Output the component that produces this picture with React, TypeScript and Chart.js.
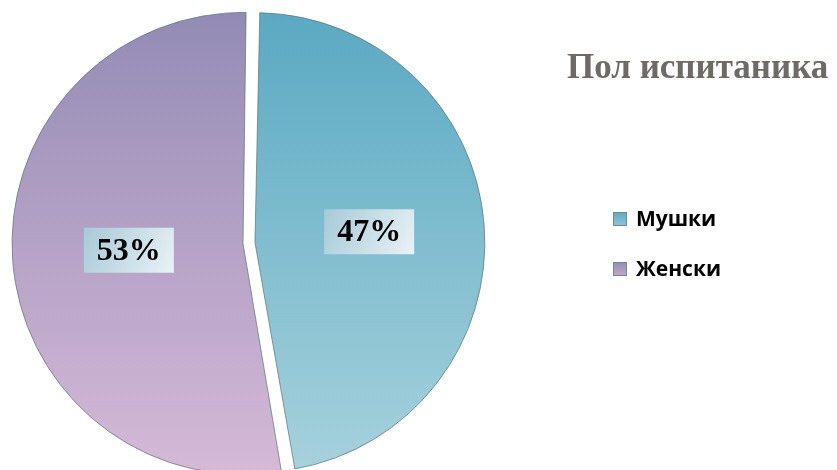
import React, { useEffect, useRef } from "react";
import { Chart, registerables } from "chart.js";

Chart.register(...registerables);

const title = "Пол испитаника";
const categories = ["Мушки", "Женски"];
const values = [47, 53];
const valueLabels = ["47%", "53%"];
const topColors = ["#5AA9C2", "#938BB5"];
const bottomColors = ["#A6D1DC", "#D5B9D7"];
const legendColors = ["#8CC7D6", "#C0A9D0"];

export default function App() {
  const ref = useRef<HTMLCanvasElement | null>(null);

  useEffect(() => {
    document.body.style.margin = "0";
    const canvas = ref.current;
    if (!canvas) return;

    const overlay = {
      id: "overlay",
      afterDatasetsDraw(chart: any) {
        const ctx = chart.ctx;
        const meta = chart.getDatasetMeta(0);
        ctx.save();
        // value labels
        meta.data.forEach((arc: any, i: number) => {
          const mid = (arc.startAngle + arc.endAngle) / 2;
          const d = (arc.outerRadius + 6) * 0.5 + 5;
          const px = arc.x + Math.cos(mid) * d;
          const py = arc.y + Math.sin(mid) * d - 2;
          const txt = valueLabels[i];
          ctx.font = "bold 32px 'Liberation Serif', 'Times New Roman', serif";
          const w = ctx.measureText(txt).width;
          const bw = w + 26;
          const bh = 45;
          const bx = px - bw / 2;
          const by = py - bh / 2;
          const g = ctx.createLinearGradient(bx, by, bx + bw, by + bh);
          g.addColorStop(0, "#A6CAD7");
          g.addColorStop(1, "#E9F2F6");
          ctx.fillStyle = g;
          ctx.fillRect(bx, by, bw, bh);
          ctx.fillStyle = "#000000";
          ctx.textAlign = "center";
          ctx.textBaseline = "middle";
          ctx.fillText(txt, px, py + 1);
        });
        // title
        ctx.font = "bold 35px 'Liberation Serif', 'Times New Roman', serif";
        ctx.fillStyle = "#6E6A66";
        ctx.textAlign = "left";
        ctx.textBaseline = "alphabetic";
        ctx.fillText(title, 567, 78);
        // legend
        const labels = chart.data.labels as string[];
        labels.forEach((lab: string, i: number) => {
          const y = 219 + i * 50;
          const sx = 613;
          const sy = y - 7;
          const g = ctx.createLinearGradient(sx, sy, sx, sy + 14);
          g.addColorStop(0, topColors[i]);
          g.addColorStop(1, legendColors[i]);
          ctx.fillStyle = g;
          ctx.fillRect(sx, sy, 14, 14);
          ctx.strokeStyle = "#6E8A94";
          ctx.lineWidth = 1;
          ctx.strokeRect(sx + 0.5, sy + 0.5, 13, 13);
          ctx.font = "bold 21px 'Open Sans', 'Liberation Sans', sans-serif";
          ctx.fillStyle = "#000000";
          ctx.textBaseline = "middle";
          ctx.fillText(lab, 636, y + 1);
        });
        ctx.restore();
      },
    };

    const chart = new Chart(canvas, {
      type: "pie",
      data: {
        labels: categories,
        datasets: [
          {
            data: values,
            backgroundColor: (c: any) => {
              const i = c.dataIndex;
              const ch = c.chart;
              const g = ch.ctx.createLinearGradient(0, 12, 0, 470);
              g.addColorStop(0, topColors[i]);
              g.addColorStop(1, bottomColors[i]);
              return g;
            },
            borderColor: "rgba(90,115,125,0.7)",
            borderWidth: 1,
            offset: 24,
          },
        ],
      },
      options: {
        responsive: false,
        animation: false,
        rotation: 1,
        radius: 225,
        layout: { padding: { left: 0, right: 339, top: 16, bottom: 0 } },
        plugins: {
          legend: { display: false },
          title: { display: false },
          tooltip: { enabled: false },
        },
      },
      plugins: [overlay],
    } as any);

    return () => chart.destroy();
  }, []);

  return (
    <div style={{ width: 837, height: 470, background: "#ffffff" }}>
      <canvas ref={ref} width={837} height={470} style={{ display: "block" }} />
    </div>
  );
}
